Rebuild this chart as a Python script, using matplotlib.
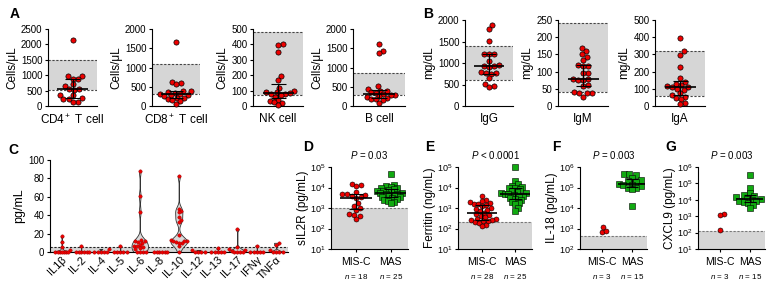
import numpy as np
import matplotlib.pyplot as plt
from matplotlib.transforms import blended_transform_factory

plt.rcParams['font.family'] = ['Liberation Sans', 'DejaVu Sans']
plt.rcParams['mathtext.fontset'] = 'custom'
plt.rcParams['mathtext.rm'] = 'Liberation Sans'
plt.rcParams['mathtext.it'] = 'Liberation Sans:italic'
plt.rcParams['axes.linewidth'] = 0.8
plt.rcParams['xtick.major.width'] = 0.8
plt.rcParams['ytick.major.width'] = 0.8

# ---- panel A: lymphocyte counts (cells/uL)
a_names = ["CD4$^+$ T cell", "CD8$^+$ T cell", "NK cell", "B cell"]
cd4 = [2150, 980, 960, 880, 880, 700, 660, 560, 540, 520, 360, 360, 250, 230, 230, 140, 120]
cd8 = [1660, 620, 600, 560, 400, 380, 370, 350, 320, 300, 290, 280, 250, 220, 200, 170, 150, 120, 60]
nk = [400, 395, 350, 195, 170, 120, 100, 90, 88, 85, 80, 75, 70, 60, 40, 30, 25, 20, 5]
bcell = [1610, 1430, 1370, 520, 440, 400, 380, 360, 340, 300, 290, 280, 250, 230, 200, 190, 170, 160, 80]
a_ref_low = [530, 320, 70, 280]
a_ref_high = [1500, 1100, 480, 850]
a_ymax = [2500, 2000, 500, 2000]
a_step = [500, 500, 100, 500]

# ---- panel B: immunoglobulins (mg/dL)
b_names = ["IgG", "IgM", "IgA"]
igg = [1880, 1790, 1520, 1210, 1200, 1200, 1050, 950, 930, 920, 900, 780, 760, 760, 750, 640, 520, 460, 450]
igm = [170, 161, 150, 143, 133, 119, 116, 116, 97, 97, 78, 78, 76, 76, 61, 58, 42, 39, 37, 37, 27]
iga = [396, 320, 298, 227, 165, 140, 130, 120, 115, 110, 108, 100, 95, 75, 65, 55, 45, 40, 20, 10]
b_ref_low = [600, 40, 60]
b_ref_high = [1400, 240, 320]
b_ymax = [2000, 250, 500]
b_step = [500, 50, 100]

# ---- panel C: cytokines (pg/mL)
cyto_names = ["IL1β", "IL-2", "IL-4", "IL-5", "IL-6", "IL-8", "IL-10", "IL-12", "IL-13", "IL-17", "IFNγ", "TNFα"]
il1b = [17, 11, 5, 2, 0, 0, 0, 0, 0, 0, 0]
il2 = [6, 0, 0, 0, 0, 0, 0]
il4 = [3, 0, 0, 0, 0, 0]
il5 = [6, 0, 0, 0, 0, 0]
il6 = [88, 61, 44, 13, 12, 12, 11, 10, 8, 7, 6, 5, 4, 3, 0, 0, 0, 0]
il8 = [0, 0, 0, 0, 0, 0]
il10 = [83, 47, 45, 43, 38, 35, 33, 18, 13, 12, 12, 12, 11, 10, 10, 6, 0]
il12 = [2, 0, 0, 0, 0]
il13 = [4, 0, 0, 0, 0, 0]
il17 = [25, 5, 3, 2, 1, 0, 0, 0, 0]
ifng = [7, 0, 0, 0, 0, 0]
tnfa = [10, 8, 2, 0, 0, 0, 0]
cyto_ref = 5

# ---- panels D-G: MIS-C vs MAS
sil2r_misc = [15500, 13000, 12000, 6100, 5000, 4800, 4200, 3800, 3300, 3100, 1800, 1300, 1000, 800, 520, 480, 400, 300]
sil2r_mas = [45000, 14000, 12000, 11000, 10000, 9000, 8000, 7500, 7000, 6500, 6000, 5500, 5200, 5000, 4800,
             4500, 4000, 3500, 3300, 3000, 2800, 2500, 2300, 2000, 1800]
ferritin_misc = [4000, 2500, 2200, 2000, 1800, 1600, 1500, 1400, 1200, 1000, 900, 800, 700, 600, 500, 450, 400,
                 350, 300, 300, 260, 250, 240, 220, 200, 180, 150, 130]
ferritin_mas = [95000, 20000, 15000, 12000, 11000, 10000, 9000, 8000, 7000, 6000, 5500, 5200, 5000, 4800, 4500,
                4000, 3500, 3000, 2800, 2500, 2000, 1800, 1500, 1000, 720]
il18_misc = [700, 1180, 760]
il18_mas = [460000, 440000, 400000, 300000, 220000, 200000, 180000, 150000, 140000, 130000, 120000, 100000,
            95000, 80000, 13000]
cxcl9_misc = [1400, 1150, 140]
cxcl9_mas = [320000, 50000, 25000, 20000, 18000, 15000, 12000, 11000, 10000, 9000, 8000, 7000, 6000, 5000, 3000]

RED = "#ee0000"
GREEN = "#11aa11"
GRAY = "#d6d6d6"
DASH = (0, (2, 1.5))

W, H = 770, 292
fig = plt.figure(figsize=(W / 100, H / 100), dpi=100)


def px_axes(x0, y0, x1, y1):
    return fig.add_axes([x0 / W, 1 - y1 / H, (x1 - x0) / W, (y1 - y0) / H])


def swarm(ax, center, values, diam, max_off=None):
    """x positions for a simple beeswarm, computed in display pixels"""
    values = np.asarray(values, float)
    pts = ax.transData.transform(np.column_stack([np.full(len(values), center), values]))
    cx, ys = pts[0, 0], pts[:, 1]
    offs = np.zeros(len(values))
    placed = []
    for i in np.argsort(ys):
        y = ys[i]
        cands = [0.0]
        for px, py in placed:
            dy = abs(y - py)
            if dy < diam:
                dx = np.sqrt(diam ** 2 - dy ** 2)
                cands += [px + dx, px - dx]
        cands.sort(key=abs)
        for c in cands:
            if all((c - px) ** 2 + (y - py) ** 2 >= diam ** 2 - 1e-6 for px, py in placed):
                break
        placed.append((c, y))
        offs[i] = c
    if max_off is not None and np.abs(offs).max() > max_off:
        offs = offs * max_off / np.abs(offs).max()
    return ax.transData.inverted().transform(np.column_stack([cx + offs, ys]))[:, 0]


def med_iqr(ax, center, values, half, cap):
    q1, med, q3 = np.percentile(values, [25, 50, 75])
    ax.hlines(med, center - half, center + half, color="k", lw=1.2, zorder=5)
    ax.vlines(center, q1, q3, color="k", lw=0.8, zorder=5)
    ax.hlines([q1, q3], center - cap, center + cap, color="k", lw=0.8, zorder=5)


def style(ax):
    for s in ("top", "right"):
        ax.spines[s].set_visible(False)
    ax.tick_params(axis="y", labelsize=6.5, length=2.5, pad=1.5)
    ax.tick_params(axis="x", labelsize=8.5, length=2.5, pad=3)


def ref_band(ax, low, high):
    ax.axhspan(low, high, color=GRAY, zorder=0, lw=0)
    for v in (low, high):
        ax.axhline(v, color="#444444", lw=0.8, ls=DASH, zorder=1)


# ---- A and B
a_boxes = [(48, 29, 97, 106), (152, 29, 200, 106), (253, 29, 303, 106), (353, 29, 405, 106)]
b_boxes = [(465, 20, 513, 106), (558, 20, 608, 106), (655, 20, 705, 106)]
single = [(a_boxes[i], a_names[i], d, a_ref_low[i], a_ref_high[i], a_ymax[i], a_step[i], "Cells/μL")
          for i, d in enumerate([cd4, cd8, nk, bcell])]
single += [(b_boxes[i], b_names[i], d, b_ref_low[i], b_ref_high[i], b_ymax[i], b_step[i], "mg/dL")
           for i, d in enumerate([igg, igm, iga])]

for box, name, vals, lo, hi, ymax, step, ylab in single:
    ax = px_axes(*box)
    style(ax)
    ax.set_xlim(-1, 1)
    ax.set_ylim(0, ymax)
    ax.set_yticks(np.arange(0, ymax + 1, step))
    ax.tick_params(axis="y", labelsize=7)
    ax.set_xticks([0], [name])
    ax.tick_params(axis="x", length=0, pad=5)
    ax.set_ylabel(ylab, fontsize=8.5, labelpad=2)
    ref_band(ax, lo, hi)
    xs = swarm(ax, 0, vals, 5.2, max_off=16)
    ax.scatter(xs, vals, s=14, color=RED, edgecolor="k", lw=0.5, zorder=4, clip_on=False)
    med_iqr(ax, 0, vals, 0.62, 0.3)

fig.text(10 / W, 1 - 14 / H, "A", fontsize=10, fontweight="bold", va="center", ha="left")
fig.text(423 / W, 1 - 14 / H, "B", fontsize=10, fontweight="bold", va="center", ha="left")

# ---- C
axc = px_axes(50, 160, 288, 252)
style(axc)
cyto = [il1b, il2, il4, il5, il6, il8, il10, il12, il13, il17, ifng, tnfa]
pos = np.arange(len(cyto))
axc.set_xlim(-0.6, len(cyto) - 0.4)
axc.set_ylim(0, 100)
axc.set_yticks(np.arange(0, 101, 20))
axc.tick_params(axis="y", labelsize=7)
axc.set_ylabel("pg/mL", fontsize=9, labelpad=2)
axc.axhspan(0, cyto_ref, color=GRAY, zorder=0, lw=0)
axc.axhline(cyto_ref, color="#222222", lw=0.8, ls=DASH, zorder=1)
for p, vals in zip(pos, cyto):
    v = np.asarray(vals, float)
    if v.std() > 0:
        vp = axc.violinplot([v], positions=[p], widths=0.85, showextrema=False, bw_method=0.2)
        for b in vp["bodies"]:
            b.set_facecolor("#d9d9d9")
            b.set_edgecolor("#333333")
            b.set_linewidth(0.6)
            b.set_alpha(1)
            b.set_zorder(2)
    xs = swarm(axc, p, v, 3.2, max_off=8)
    axc.scatter(xs, v, s=6, color=RED, edgecolor="#990000", lw=0.3, zorder=4, clip_on=False)
axc.set_xticks(pos, cyto_names, rotation=45, ha="right", rotation_mode="anchor")
axc.tick_params(axis="x", length=0, labelsize=8, pad=2)
fig.text(8 / W, 1 - 150 / H, "C", fontsize=10, fontweight="bold", va="center", ha="left")

# ---- D-G
cmp_panels = [
    ("D", (331, 167, 408, 249), 303, sil2r_misc, sil2r_mas, "sIL2R (pg/mL)", (1, 5), 1000, "$P$ = 0.03", True),
    ("E", (458, 167, 532, 249), 425, ferritin_misc, ferritin_mas, "Ferritin (ng/mL)", (1, 5), 200, "$P$ < 0.0001", True),
    ("F", (580, 167, 647, 249), 552, il18_misc, il18_mas, "IL-18 (pg/mL)", (2, 6), 450, "$P$ = 0.003", False),
    ("G", (698, 167, 765, 249), 665, cxcl9_misc, cxcl9_mas, "CXCL9 (pg/mL)", (1, 6), 130, "$P$ = 0.003", False),
]
for letter, box, lx, misc, mas, ylab, (e0, e1), ref, ptxt, misc_med in cmp_panels:
    ax = px_axes(*box)
    style(ax)
    ax.set_yscale("log")
    ax.set_ylim(10 ** e0, 10 ** e1)
    ax.set_xlim(-0.72, 1.5)
    dec = np.arange(e0, e1 + 1)
    ax.set_yticks(10.0 ** dec, [f"$10^{{{d}}}$" for d in dec])
    ax.minorticks_off()
    ax.set_ylabel(ylab, fontsize=8.5, labelpad=1)
    ax.set_xticks([0, 1], ["MIS-C", "MAS"])
    ax.tick_params(axis="x", labelsize=7.5)
    ax.axhspan(10 ** e0, ref, color=GRAY, zorder=0, lw=0)
    ax.axhline(ref, color="#777777", lw=0.8, ls=DASH, zorder=1)
    xs = swarm(ax, 0, misc, 4.8, max_off=14)
    ax.scatter(xs, misc, s=13, color=RED, edgecolor="k", lw=0.4, zorder=4, clip_on=False)
    xs = swarm(ax, 1, mas, 4.8, max_off=14)
    ax.scatter(xs, mas, s=13, marker="s", color=GREEN, edgecolor="k", lw=0.4, zorder=4, clip_on=False)
    if misc_med:
        med_iqr(ax, 0, misc, 0.45, 0.2)
    med_iqr(ax, 1, mas, 0.45, 0.2)
    ax.text(0.5, 1.15, ptxt, transform=ax.transAxes, ha="center", va="center", fontsize=7)
    tr = blended_transform_factory(ax.transData, ax.transAxes)
    for xc, n in ((0, len(misc)), (1, len(mas))):
        ax.text(xc, -0.34, f"$n$ = {n}", transform=tr, ha="center", va="center", fontsize=5.8)
    fig.text(lx / W, 1 - 147 / H, letter, fontsize=10, fontweight="bold", va="center", ha="left")

fig.savefig("out.png", dpi=100)
